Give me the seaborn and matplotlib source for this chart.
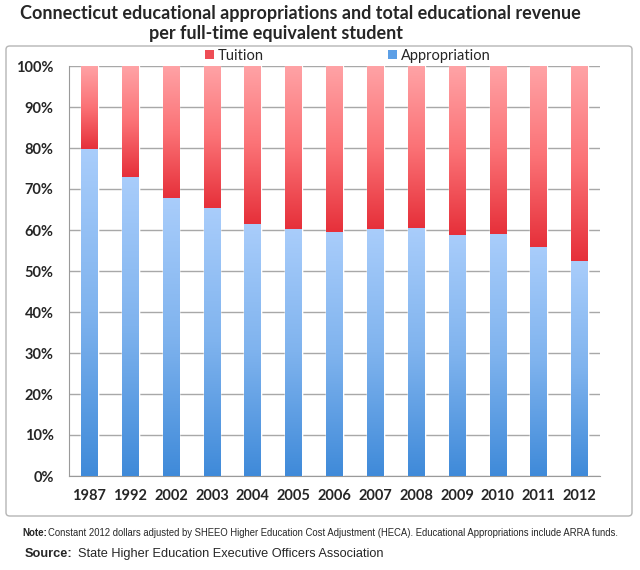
"""Connecticut appropriations vs tuition share per FTE student (100% stacked bars)."""
import matplotlib; matplotlib.use("Agg")
import numpy as np
import pandas as pd
import matplotlib.pyplot as plt
import seaborn as sns
from matplotlib.colors import LinearSegmentedColormap
from matplotlib.patches import FancyBboxPatch, Patch

YEARS = ["1987", "1992", "2002", "2003", "2004", "2005", "2006",
         "2007", "2008", "2009", "2010", "2011", "2012"]
APPROPRIATION = [79.7, 73.0, 67.8, 65.3, 61.4, 60.2, 59.4,
                 60.2, 60.6, 58.8, 59.0, 55.9, 52.4]
TUITION = [100 - a for a in APPROPRIATION]
Y_TICKS = list(range(0, 101, 10))

RED_CMAP = LinearSegmentedColormap.from_list("red", ["#e6303a", "#fb7276", "#ffa3a6"])
BLUE_CMAP = LinearSegmentedColormap.from_list("blue", ["#3f8ad9", "#7fb3ee", "#a9cdfb"])

df = pd.DataFrame({"year": YEARS, "Appropriation": APPROPRIATION, "Tuition": TUITION})
df["total"] = df["Appropriation"] + df["Tuition"]

sns.set_style("white")
plt.rcParams["font.family"] = ["Lato", "DejaVu Sans"]

W, H = 640, 570
fig = plt.figure(figsize=(W / 100, H / 100), dpi=100)

# rounded frame around the chart
fig.patches.append(FancyBboxPatch((6 / W, 1 - 516 / H), 626 / W, 470 / H,
                                  boxstyle="round,pad=0,rounding_size=0.006",
                                  transform=fig.transFigure, fc="none",
                                  ec="#b5b5b5", lw=1.0))

ax = fig.add_axes([69 / W, 1 - 476 / H, (600 - 69) / W, (476 - 66) / H])
ax.set_facecolor("none")
sns.barplot(data=df, x="year", y="total", color="#f06a70", width=0.41,
            saturation=1, ax=ax, zorder=2)
sns.barplot(data=df, x="year", y="Appropriation", color="#7fb3ee", width=0.41,
            saturation=1, ax=ax, zorder=2)

# per-segment vertical gradients clipped to the bars
grad = np.linspace(0, 1, 256).reshape(-1, 1)
n = len(YEARS)
for i, p in enumerate(ax.patches):
    x0, w = p.get_x(), p.get_width()
    if i < n:
        y0, y1, cmap = APPROPRIATION[i], 100, RED_CMAP
    else:
        y0, y1, cmap = 0, APPROPRIATION[i - n], BLUE_CMAP
    im = ax.imshow(grad, cmap=cmap, origin="lower", aspect="auto",
                   extent=(x0, x0 + w, y0, y1), zorder=3 if i >= n else 2.5)
    im.set_clip_path(p)

ax.set_xlim(-0.5, n - 0.5)
ax.set_ylim(0, 100)
ax.set_yticks(Y_TICKS)
ax.set_yticklabels([f"{v}%" for v in Y_TICKS], fontsize=10.5, fontweight="bold")
ax.set_xticks(range(n))
ax.set_xticklabels(YEARS, fontsize=10.5, fontweight="bold")
ax.set_xticks(np.arange(-0.5, n), minor=True)
ax.tick_params(axis="x", which="major", length=0, pad=9)
ax.tick_params(axis="x", which="minor", length=5, color="#9a9a9a", width=1)
ax.tick_params(axis="y", length=6, color="#9a9a9a", width=1, pad=5)
ax.set_xlabel(""); ax.set_ylabel("")
ax.set_axisbelow(True)
ax.grid(axis="y", color="#a8a8a8", lw=1)
for s in ["top", "right"]:
    ax.spines[s].set_visible(False)
for s in ["left", "bottom"]:
    ax.spines[s].set_color("#9a9a9a")

handles = [Patch(fc="#ee4d55", ec="none"), Patch(fc="#5c9fe6", ec="none")]
fig.legend(handles, ["Tuition", "Appropriation"], loc="center",
           bbox_to_anchor=(348 / W, 1 - 56 / H), ncol=2, frameon=False,
           fontsize=10.5, handlelength=0.6, handleheight=0.6, handletextpad=0.3,
           columnspacing=8.5)

fig.text(300 / W, 1 - 13 / H,
         "Connecticut educational appropriations and total educational revenue",
         ha="center", va="center", fontsize=13, fontweight="bold")
fig.text(276 / W, 1 - 34 / H, "per full-time equivalent student",
         ha="center", va="center", fontsize=13, fontweight="bold")

note_y = 1 - 533 / H
fig.text(22 / W, note_y, "Note:", fontsize=7, fontweight="bold",
         family=["Liberation Sans"], va="center")
fig.text(48 / W, note_y,
         "Constant 2012 dollars adjusted by SHEEO Higher Education Cost Adjustment (HECA). "
         "Educational Appropriations include ARRA funds.",
         fontsize=6.85, family=["Liberation Sans"], va="center")
src_y = 1 - 554 / H
fig.text(25 / W, src_y, "Source:", fontsize=9.2, fontweight="bold",
         family=["Liberation Sans"], va="center")
fig.text(78 / W, src_y, "State Higher Education Executive Officers Association",
         fontsize=9.2, family=["Liberation Sans"], va="center")

fig.savefig("out.png", dpi=100)
